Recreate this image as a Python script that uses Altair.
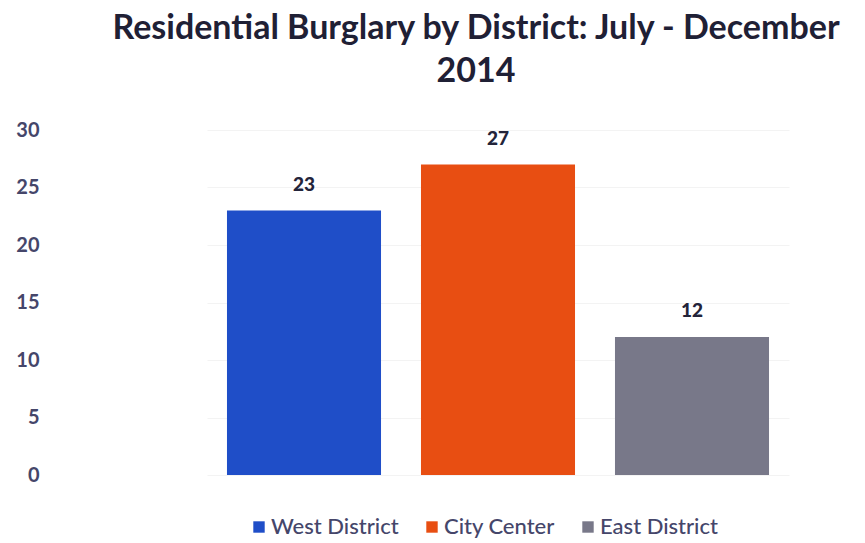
import altair as alt
import pandas as pd

districts = ["West District", "City Center", "East District"]
burglaries = [23, 27, 12]
colors = ["#1f4ec8", "#e84e12", "#787889"]
y_ticks = [0, 5, 10, 15, 20, 25, 30]

df = pd.DataFrame({"District": districts, "Count": burglaries})

FONT = "Lato"

x = alt.X("District:N", sort=districts, axis=None,
          scale=alt.Scale(paddingInner=0.206, paddingOuter=0.103))
y = alt.Y("Count:Q", scale=alt.Scale(domain=[0, 30], nice=False),
          axis=alt.Axis(values=y_ticks, title=None, ticks=False, domain=False,
                        labelPadding=168, labelFontSize=20, labelColor="#45466a",
                        labelFont=FONT, labelFontWeight="bold",
                        grid=True, gridColor="#f3f3f3"))

bars = alt.Chart(df).mark_bar().encode(
    x=x, y=y,
    color=alt.Color("District:N", sort=districts,
                    scale=alt.Scale(domain=districts, range=colors),
                    legend=alt.Legend(orient="none", direction="horizontal",
                                      legendX=41, legendY=386, title=None,
                                      symbolType="square", symbolSize=130,
                                      labelFontSize=22, labelFont=FONT,
                                      labelFontWeight=500,
                                      labelColor="#45466a", columnPadding=22,
                                      symbolStrokeWidth=0, labelOffset=1))
)

labels = alt.Chart(df).mark_text(dy=-26, fontSize=19, fontWeight=900,
                                 font=FONT, color="#23243a").encode(
    x=x, y=alt.Y("Count:Q"), text="Count:Q")

chart = (bars + labels).properties(
    width=582, height=345,
    autosize=alt.AutoSizeParams(type="none"),
    padding={"left": 207, "top": 130, "right": 76, "bottom": 68},
    title=alt.TitleParams(["Residential Burglary by District: July - December", "2014"],
                          font=FONT, fontSize=34, fontWeight="bold", color="#1f2035",
                          anchor="middle", dx=-22, offset=31, lineHeight=43),
    background="white",
).configure_view(stroke=None)

chart.save("out.html", embed_options={"renderer": "svg", "actions": False})
